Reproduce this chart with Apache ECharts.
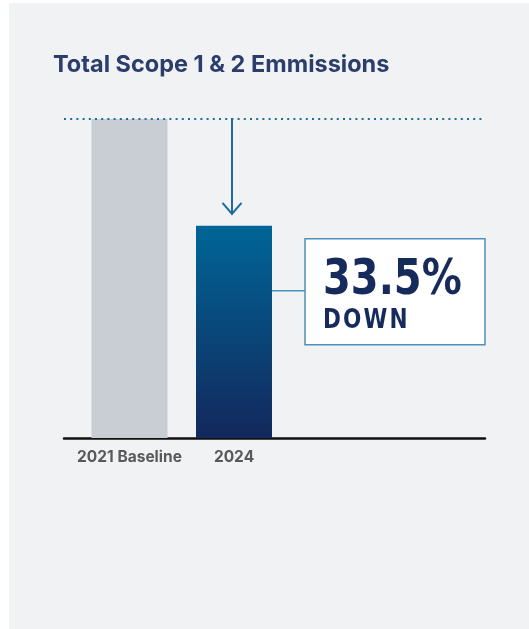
<!DOCTYPE html>
<html>
<head>
<meta charset="utf-8">
<title>Total Scope 1 &amp; 2 Emmissions</title>
<script src="https://cdn.jsdelivr.net/npm/echarts@6/dist/echarts.min.js"></script>
<style>
  html, body { margin: 0; padding: 0; background: #ffffff; }
  #chart { width: 529px; height: 629px; }
</style>
</head>
<body>
<div id="chart"></div>
<script>
// Chart data
const titleText = 'Total Scope 1 & 2 Emmissions';
const categories = ['2021 Baseline', '2024'];
const emissions = [100, 66.5];          // indexed to the 2021 baseline
const reductionLabel = ['33.5%', 'DOWN'];

// bars sit at x = 1, 2 on a numeric axis so the baseline rule can run past them
const positions = categories.map((_, i) => i + 1);

const chart = echarts.init(document.getElementById('chart'), null, { renderer: 'canvas' });

const barColors = [
  '#c9ced5',
  new echarts.graphic.LinearGradient(0, 0, 0, 1, [
    { offset: 0, color: '#006597' },
    { offset: 1, color: '#13285c' }
  ])
];

const option = {
  backgroundColor: '#ffffff',
  animation: false,
  graphic: [{
    type: 'rect',
    left: 9, top: 3,
    shape: { width: 520, height: 626 },
    style: { fill: '#f1f2f4' },
    z: -10
  }],
  title: {
    text: titleText,
    left: 53,
    top: 53,
    padding: 0,
    textStyle: {
      fontFamily: 'Inter',
      fontWeight: 700,
      fontSize: 23.5,
      color: '#2b3d6b'
    }
  },
  grid: { left: 64, right: 44, top: 119, bottom: 191 },
  xAxis: {
    type: 'value',
    min: 0.3732,
    max: 4.4019,
    splitLine: { show: false },
    axisTick: { show: false },
    axisLine: { show: true, lineStyle: { color: '#111111', width: 2.5 } },
    axisLabel: {
      customValues: positions,
      formatter: v => categories[Math.round(v) - 1] || '',
      margin: 11,
      fontFamily: 'Inter',
      fontWeight: 700,
      fontSize: 15.5,
      color: '#58595b'
    }
  },
  yAxis: {
    type: 'value',
    min: 0,
    max: 100,
    show: false
  },
  series: [
    {
      // dotted rule at the baseline level, behind the bars
      type: 'line',
      data: [],
      z: 1,
      markLine: {
        silent: true,
        symbol: ['none', 'none'],
        label: { show: false },
        lineStyle: { color: '#1b6e9e', width: 2, type: [2, 4.2] },
        data: [{ yAxis: emissions[0] }]
      }
    },
    {
      type: 'bar',
      z: 2,
      barWidth: 76,
      data: emissions.map((v, i) => ({
        value: [positions[i], v],
        itemStyle: { color: barColors[i] }
      }))
    },
    {
      // drop arrow and reduction callout on the latest bar
      type: 'custom',
      z: 3,
      silent: true,
      data: [[positions[1], emissions[1], emissions[0]]],
      renderItem: function (params, api) {
        const x = api.value(0);
        const top = api.coord([x, api.value(2)]);
        const barTop = api.coord([x, api.value(1)]);
        const cx = top[0] - 2;
        const tipY = barTop[1] - 12;
        const boxL = barTop[0] + 71;
        const boxT = barTop[1] + 13;
        const boxW = 180, boxH = 106;
        const midY = boxT + 52;
        const arrowColor = '#1f6b9c';
        return {
          type: 'group',
          children: [
            {
              type: 'line',
              shape: { x1: cx, y1: top[1] - 1, x2: cx, y2: tipY },
              style: { stroke: arrowColor, lineWidth: 2 }
            },
            {
              type: 'polyline',
              shape: { points: [[cx - 9.5, tipY - 11], [cx, tipY], [cx + 9.5, tipY - 11]] },
              style: { stroke: arrowColor, lineWidth: 2, fill: null }
            },
            {
              type: 'line',
              shape: { x1: barTop[0] + 38, y1: midY, x2: boxL, y2: midY },
              style: { stroke: '#4d90bb', lineWidth: 1.5 }
            },
            {
              type: 'rect',
              shape: { x: boxL, y: boxT, width: boxW, height: boxH },
              style: { fill: '#ffffff', stroke: '#4d90bb', lineWidth: 1.5 }
            },
            {
              type: 'text',
              x: boxL + 18,
              y: boxT + 17,
              scaleX: 0.8,
              style: {
                text: reductionLabel[0],
                fontFamily: 'DejaVu Sans',
                fontWeight: 'bold',
                fontSize: 50,
                fill: '#172a5c',
                align: 'left',
                verticalAlign: 'top'
              }
            },
            {
              type: 'text',
              x: boxL + 18,
              y: boxT + 69,
              scaleX: 0.83,
              style: {
                text: reductionLabel[1].split('').join('\u200a'),
                fontFamily: 'DejaVu Sans',
                fontWeight: 'bold',
                fontSize: 26,
                fill: '#172a5c',
                align: 'left',
                verticalAlign: 'top'
              }
            }
          ]
        };
      }
    }
  ]
};

chart.setOption(option);
</script>
</body>
</html>
